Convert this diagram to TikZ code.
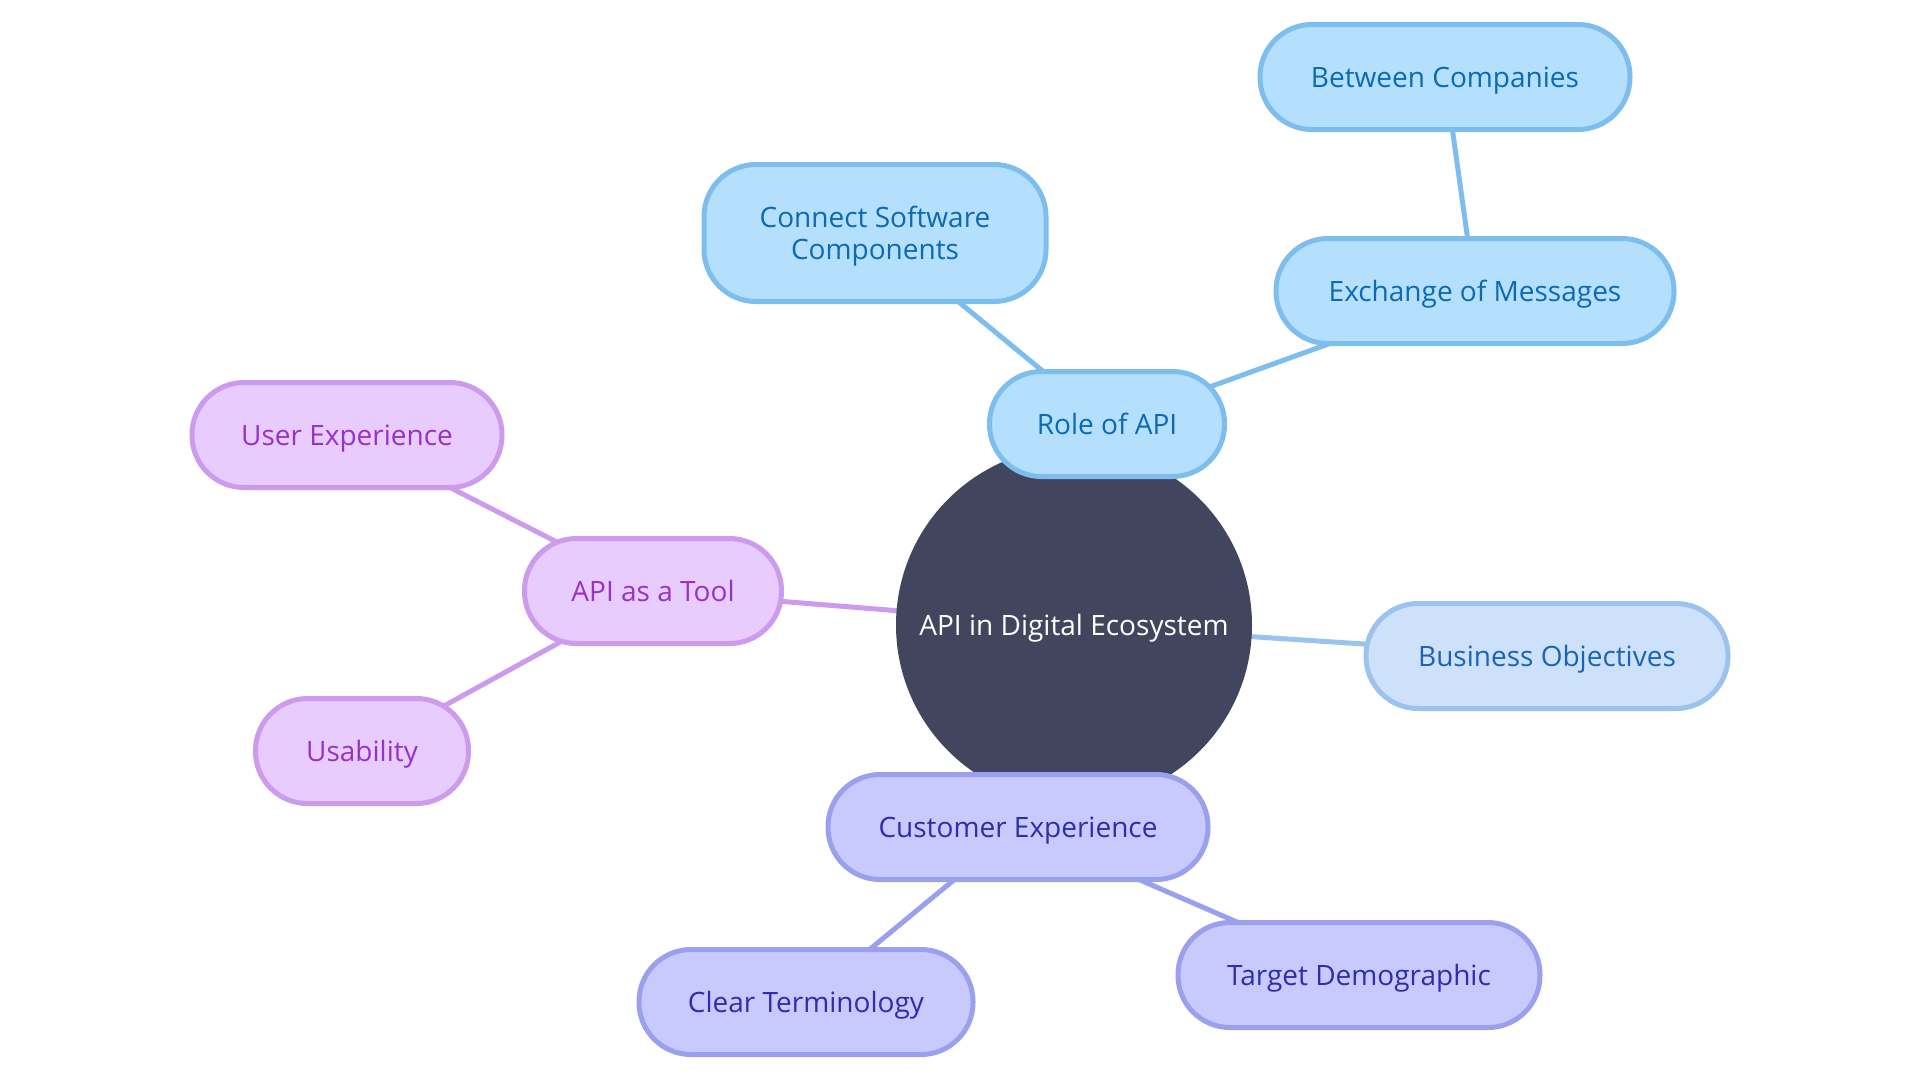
\documentclass[tikz,border=0pt]{standalone}
\usepackage{fontspec}
\setmainfont{Open Sans}
\usepackage{tikz}
\usetikzlibrary{backgrounds}
\definecolor{hubfill}{RGB}{65,69,94}
\definecolor{bluefill}{RGB}{180,224,254}
\definecolor{blueline}{RGB}{125,190,238}
\definecolor{bluetext}{RGB}{12,105,180}
\definecolor{softfill}{RGB}{205,226,250}
\definecolor{softline}{RGB}{155,195,238}
\definecolor{softtext}{RGB}{25,100,185}
\definecolor{purplefill}{RGB}{232,204,253}
\definecolor{purpleline}{RGB}{205,155,238}
\definecolor{purpletext}{RGB}{150,50,200}
\definecolor{indigofill}{RGB}{200,202,253}
\definecolor{indigoline}{RGB}{155,160,238}
\definecolor{indigotext}{RGB}{45,45,175}

\begin{document}
\begin{tikzpicture}[
  x=1pt,y=-1pt,
  every node/.style={font=\fontsize{28}{32}\selectfont,align=center,text depth=0pt},
  leaf/.style={rectangle,rounded corners=52pt,line width=5pt,minimum height=105pt,inner sep=0pt},
  hub/.style={circle,fill=hubfill,text=white,minimum size=356pt,inner sep=0pt},
  blue/.style={leaf,draw=blueline,fill=bluefill,text=bluetext},
  soft/.style={leaf,draw=softline,fill=softfill,text=softtext},
  purple/.style={leaf,draw=purpleline,fill=purplefill,text=purpletext},
  indigo/.style={leaf,draw=indigoline,fill=indigofill,text=indigotext},
  link/.style={line width=5pt,draw=#1}
]
\useasboundingbox (0,0) rectangle (1920,1080);
\node[hub] (api) at (1074,625) {API in Digital Ecosystem};
% blue branch
\node[blue,minimum width=235pt] (role) at (1107,424) {Role of API};
\node[blue,minimum width=342pt,minimum height=137pt] (connect) at (875,233) {Connect Software\\Components};
\node[blue,minimum width=398pt] (exchange) at (1475,291) {Exchange of Messages};
\node[blue,minimum width=370pt] (between) at (1445,77) {Between Companies};
\node[soft,minimum width=362pt] (business) at (1547,656) {Business Objectives};
% purple branch
\node[purple,minimum width=257pt] (tool) at (653,591) {API as a Tool};
\node[purple,minimum width=310pt] (user) at (347,435) {User Experience};
\node[purple,minimum width=213pt] (usability) at (362,751) {Usability};
% indigo branch
\node[indigo,minimum width=380pt] (customer) at (1018,827) {Customer Experience};
\node[indigo,minimum width=334pt] (clear) at (806,1002) {Clear Terminology};
\node[indigo,minimum width=362pt] (target) at (1359,975) {Target Demographic};
\begin{scope}[on background layer]
\draw[link=blueline] (api.center) -- (role.center);
\draw[link=blueline] (role.center) -- (connect.center);
\draw[link=blueline] (role.center) -- (exchange.center);
\draw[link=blueline] (exchange.center) -- (between.center);
\draw[link=softline] (api.center) -- (business.center);
\draw[link=purpleline] (api.center) -- (tool.center);
\draw[link=purpleline] (tool.center) -- (user.center);
\draw[link=purpleline] (tool.center) -- (usability.center);
\draw[link=indigoline] (api.center) -- (customer.center);
\draw[link=indigoline] (customer.center) -- (clear.center);
\draw[link=indigoline] (customer.center) -- (target.center);
\end{scope}
\end{tikzpicture}
\end{document}
